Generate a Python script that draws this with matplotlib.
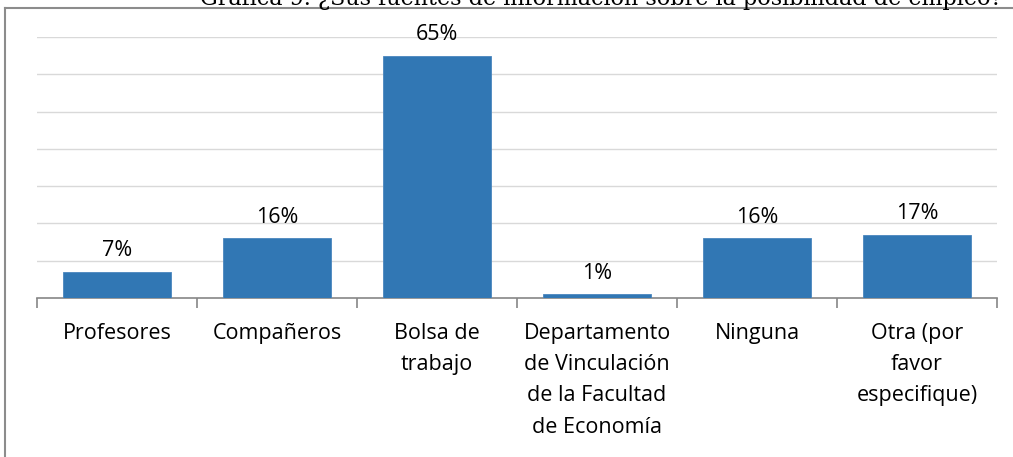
import matplotlib
matplotlib.use("Agg")
import matplotlib.pyplot as plt
from matplotlib.lines import Line2D

categories = ["Profesores", "Compañeros", "Bolsa de\ntrabajo",
              "Departamento\nde Vinculación\nde la Facultad\nde Economía",
              "Ninguna", "Otra (por\nfavor\nespecifique)"]
values = [7, 16, 65, 1, 16, 17]
value_labels = ["7%", "16%", "65%", "1%", "16%", "17%"]
title = "Gráfica 9. ¿Sus fuentes de información sobre la posibilidad de empleo?"

W, H = 1013, 457
fig = plt.figure(figsize=(W / 100, H / 100), dpi=100)
fig.patch.set_facecolor("white")
ax = fig.add_axes([37 / W, 1 - 298 / H, (997 - 37) / W, (298 - 37) / H])

x = list(range(len(categories)))
bars = ax.bar(x, values, width=0.675, color="#3177B4", edgecolor="#4A86BE", linewidth=0.6, zorder=3)
ax.set_xlim(-0.5, len(categories) - 0.5)
ax.set_ylim(0, 70)
ax.set_yticks(range(10, 71, 10))
ax.yaxis.grid(True, color="#D9D9D9", linewidth=1.0, zorder=0)
ax.tick_params(axis="y", left=False, labelleft=False)
for s in ["top", "right", "left"]:
    ax.spines[s].set_visible(False)
ax.spines["bottom"].set_color("#868686")
ax.spines["bottom"].set_linewidth(1.2)

font = "Open Sans"
ax.set_xticks([i - 0.5 for i in range(len(categories) + 1)], minor=False)
ax.set_xticklabels([])
ax.tick_params(axis="x", which="major", length=7, color="#868686", width=1.2)
ax.set_xticks(x, minor=True)
ax.set_xticklabels(categories, minor=True, fontsize=15.5, family=font, color="black", linespacing=1.64, va="top")
ax.tick_params(axis="x", which="minor", length=0, pad=18)

for b, lab in zip(bars, value_labels):
    ax.annotate(lab, (b.get_x() + b.get_width() / 2, b.get_height()),
                xytext=(0, 7.5), textcoords="offset points", ha="center", va="bottom",
                fontsize=15.5, family=font, color="black")

fig.text(200 / W, 1 - 5 / H, title, family="DejaVu Serif", fontsize=16, va="baseline", ha="left", color="black")

fig.add_artist(Line2D([4.5 / W, 4.5 / W], [0, 1 - 8 / H], transform=fig.transFigure, color="#8C8C8C", lw=1.5))
fig.add_artist(Line2D([4.5 / W, 1], [1 - 8 / H, 1 - 8 / H], transform=fig.transFigure, color="#8C8C8C", lw=1.5))

fig.savefig("out.png", dpi=100)
